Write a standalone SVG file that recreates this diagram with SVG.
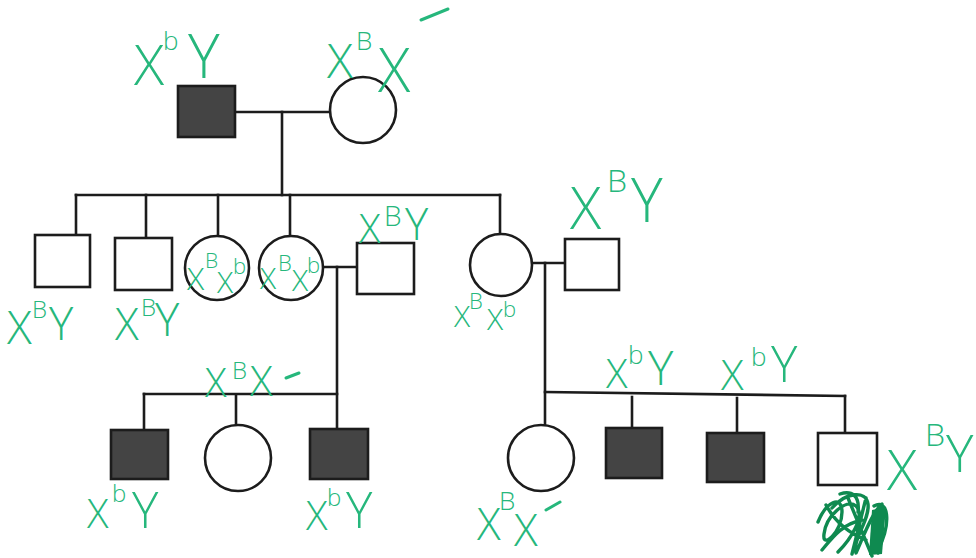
<svg xmlns="http://www.w3.org/2000/svg" width="976" height="558" viewBox="0 0 976 558">
  <style>
    .ln { stroke: #1c1c1c; stroke-width: 2.6; fill: none; stroke-linecap: square; }
    .aff { fill: #444; stroke: #1c1c1c; stroke-width: 2.6; }
    .un { fill: #fff; stroke: #1c1c1c; stroke-width: 2.6; }
    .g { fill: #26b77c; font-family: "Open Sans", "DejaVu Sans", sans-serif; font-weight: 300; }
    .dash { stroke: #26b77c; stroke-width: 3; stroke-linecap: round; }
    .scr { fill: none; stroke: #0f8a50; stroke-width: 3.4; stroke-linecap: round; stroke-linejoin: round; }
  </style>
  <rect width="976" height="558" fill="#fff"/>

  <!-- connectors: marriage lines, descent lines, sibship lines -->
  <g id="connectors">
    <line class="ln" x1="235" y1="112" x2="330" y2="112"/>
    <line class="ln" x1="282" y1="112" x2="282" y2="195"/>
    <line class="ln" x1="76" y1="195" x2="500" y2="195"/>
    <line class="ln" x1="76" y1="195" x2="76" y2="235"/>
    <line class="ln" x1="146" y1="195" x2="146" y2="238"/>
    <line class="ln" x1="218" y1="195" x2="218" y2="236"/>
    <line class="ln" x1="290" y1="195" x2="290" y2="236"/>
    <line class="ln" x1="500" y1="195" x2="500" y2="234"/>
    <line class="ln" x1="323" y1="267" x2="357" y2="267"/>
    <line class="ln" x1="337" y1="267" x2="337" y2="429"/>
    <line class="ln" x1="144" y1="394" x2="337" y2="394"/>
    <line class="ln" x1="144" y1="394" x2="144" y2="430"/>
    <line class="ln" x1="236" y1="396" x2="236" y2="425"/>
    <line class="ln" x1="532" y1="263" x2="565" y2="263"/>
    <line class="ln" x1="545" y1="263" x2="545" y2="425"/>
    <line class="ln" x1="545" y1="392" x2="845" y2="396"/>
    <line class="ln" x1="632" y1="397" x2="632" y2="427"/>
    <line class="ln" x1="737" y1="398" x2="737" y2="432"/>
    <line class="ln" x1="845" y1="396" x2="845" y2="432"/>
  </g>

  <!-- generation I -->
  <g id="I-1">
    <rect class="aff" x="178" y="86" width="57" height="51"/>
    <text class="g"><tspan x="134" y="85" font-size="56">X</tspan><tspan x="163" y="50" font-size="26">b</tspan><tspan x="188" y="78" font-size="60">Y</tspan></text>
  </g>
  <g id="I-2">
    <circle class="un" cx="363" cy="110" r="33"/>
    <text class="g"><tspan x="327" y="78" font-size="48">X</tspan><tspan x="356" y="50" font-size="26">B</tspan><tspan x="378" y="92" font-size="60">X</tspan></text>
    <line class="dash" x1="421" y1="20" x2="448" y2="9"/>
  </g>

  <!-- generation II -->
  <g id="II-1">
    <rect class="un" x="35" y="235" width="55" height="52"/>
    <text class="g"><tspan x="7" y="344" font-size="46">X</tspan><tspan x="32" y="318" font-size="24">B</tspan><tspan x="49" y="340" font-size="46">Y</tspan></text>
  </g>
  <g id="II-2">
    <rect class="un" x="115" y="238" width="57" height="52"/>
    <text class="g"><tspan x="115" y="340" font-size="44">X</tspan><tspan x="141" y="316" font-size="24">B</tspan><tspan x="155" y="336" font-size="46">Y</tspan></text>
  </g>
  <g id="II-3">
    <circle class="un" cx="217" cy="268" r="32"/>
    <text class="g"><tspan x="187" y="290" font-size="32">X</tspan><tspan x="205" y="268" font-size="21">B</tspan><tspan x="217" y="293" font-size="30">X</tspan><tspan x="233" y="274" font-size="22">b</tspan></text>
  </g>
  <g id="II-4">
    <circle class="un" cx="291" cy="268" r="32"/>
    <text class="g"><tspan x="260" y="289" font-size="30">X</tspan><tspan x="278" y="271" font-size="22">B</tspan><tspan x="292" y="291" font-size="30">X</tspan><tspan x="307" y="273" font-size="22">b</tspan></text>
  </g>
  <g id="II-5">
    <rect class="un" x="357" y="243" width="57" height="51"/>
    <text class="g"><tspan x="359" y="243" font-size="40">X</tspan><tspan x="384" y="226" font-size="28">B</tspan><tspan x="405" y="240" font-size="44">Y</tspan></text>
  </g>
  <g id="II-6">
    <circle class="un" cx="501" cy="265" r="31"/>
    <text class="g"><tspan x="454" y="327" font-size="30">X</tspan><tspan x="469" y="309" font-size="22">B</tspan><tspan x="487" y="330" font-size="30">X</tspan><tspan x="503" y="317" font-size="22">b</tspan></text>
  </g>
  <g id="II-7">
    <rect class="un" x="565" y="239" width="54" height="51"/>
    <text class="g"><tspan x="570" y="229" font-size="58">X</tspan><tspan x="607" y="192" font-size="32">B</tspan><tspan x="631" y="222" font-size="60">Y</tspan></text>
  </g>

  <!-- label over the left sibship line -->
  <text class="g"><tspan x="205" y="397" font-size="40">X</tspan><tspan x="232" y="379" font-size="24">B</tspan><tspan x="250" y="396" font-size="42">X</tspan></text>
  <line class="dash" x1="286" y1="378" x2="299" y2="373"/>

  <!-- generation III, left family -->
  <g id="III-1">
    <rect class="aff" x="111" y="430" width="57" height="49"/>
    <text class="g"><tspan x="87" y="528" font-size="40">X</tspan><tspan x="112" y="502" font-size="24">b</tspan><tspan x="132" y="528" font-size="50">Y</tspan></text>
  </g>
  <g id="III-2">
    <circle class="un" cx="238" cy="458" r="33"/>
  </g>
  <g id="III-3">
    <rect class="aff" x="310" y="429" width="58" height="50"/>
    <text class="g"><tspan x="306" y="530" font-size="40">X</tspan><tspan x="327" y="506" font-size="24">b</tspan><tspan x="346" y="528" font-size="50">Y</tspan></text>
  </g>

  <!-- generation III, right family -->
  <g id="III-4">
    <circle class="un" cx="541" cy="458" r="33"/>
    <text class="g"><tspan x="477" y="540" font-size="44">X</tspan><tspan x="499" y="510" font-size="26">B</tspan><tspan x="514" y="546" font-size="44">X</tspan></text>
    <line class="dash" x1="546" y1="510" x2="560" y2="502"/>
  </g>
  <g id="III-5">
    <rect class="aff" x="606" y="428" width="56" height="50"/>
    <text class="g"><tspan x="606" y="388" font-size="40">X</tspan><tspan x="628" y="364" font-size="26">b</tspan><tspan x="648" y="385" font-size="48">Y</tspan></text>
  </g>
  <g id="III-6">
    <rect class="aff" x="707" y="433" width="57" height="49"/>
    <text class="g"><tspan x="721" y="390" font-size="42">X</tspan><tspan x="751" y="366" font-size="26">b</tspan><tspan x="771" y="382" font-size="50">Y</tspan></text>
  </g>
  <g id="III-7">
    <rect class="un" x="818" y="433" width="59" height="52"/>
    <text class="g"><tspan x="887" y="490" font-size="56">X</tspan><tspan x="925" y="446" font-size="32">B</tspan><tspan x="946" y="472" font-size="52">Y</tspan></text>
    <!-- crossed-out annotation -->
    <path class="scr" d="M818 522 C 826 502, 842 494, 842 512 C 842 532, 822 550, 824 534 C 826 516, 846 498, 856 506 C 866 516, 850 540, 838 552 M832 508 C 846 492, 866 490, 868 504 C 870 520, 852 540, 856 553 C 862 540, 872 512, 882 504 C 878 524, 868 544, 878 553 M848 498 L 872 556 M866 498 L 852 554 M874 506 C 888 498, 892 522, 878 550 M822 550 C 832 538, 842 524, 862 520 M826 505 C 834 520, 846 532, 866 540 M840 494 C 852 490, 860 496, 858 512"/>
    <path d="M872 510 L 886 507 L 882 554 L 869 555 Z" fill="#0f8a50"/>
  </g>
</svg>
